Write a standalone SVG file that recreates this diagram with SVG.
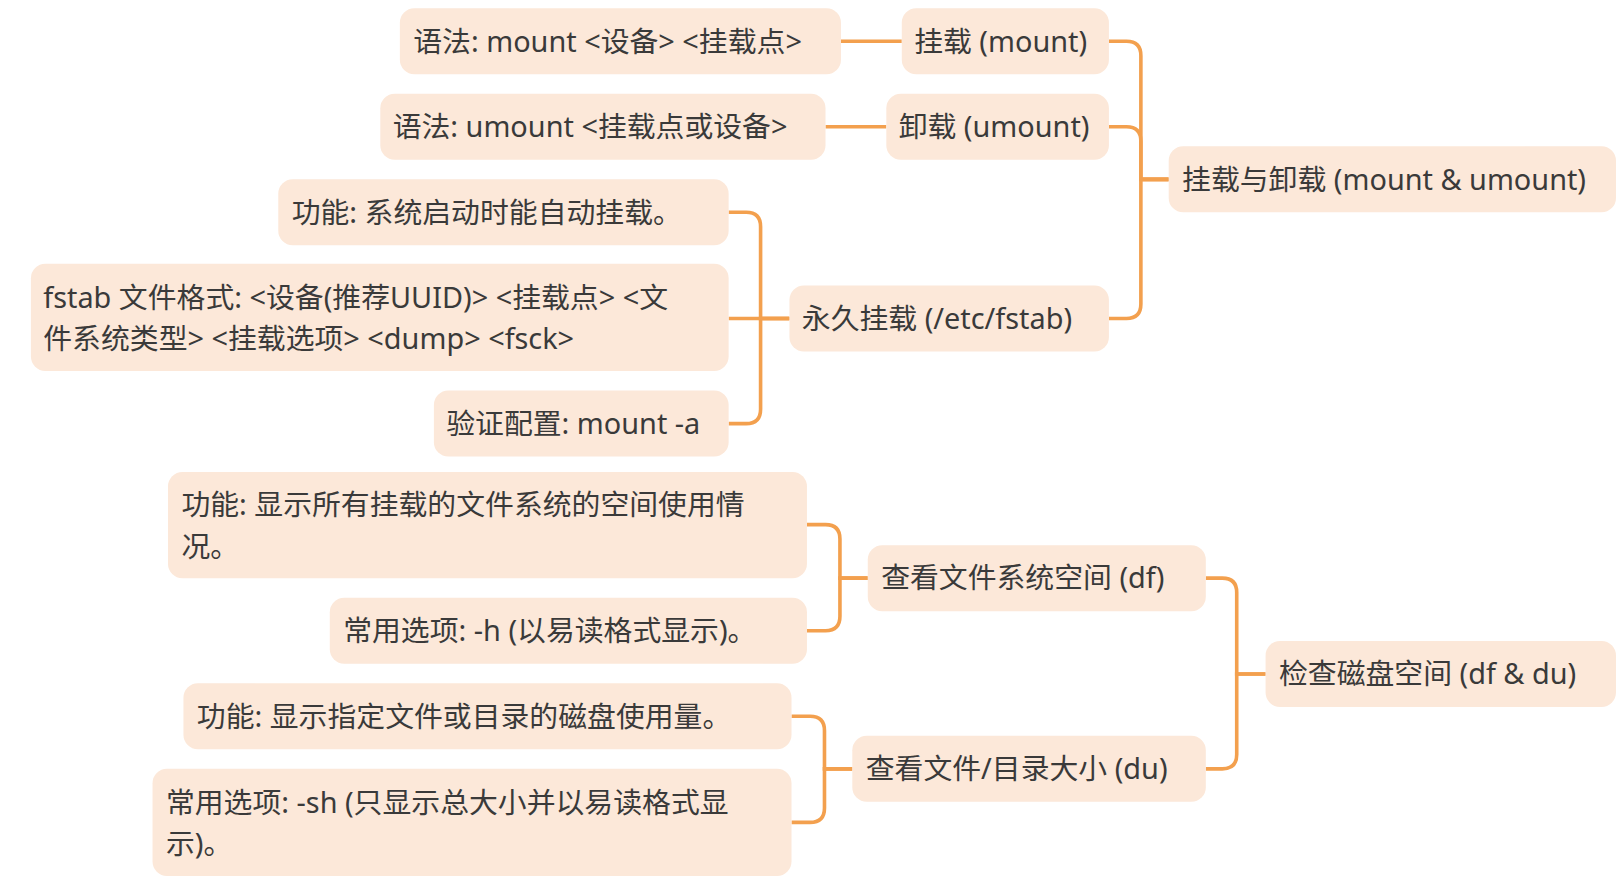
<svg xmlns="http://www.w3.org/2000/svg" width="1616" height="882" viewBox="0 0 1616 882">
<style>
.n rect{fill:#FCE8D9}
.n text{font-family:"Noto Sans","Noto Sans CJK SC",sans-serif;font-size:28px;fill:#3a3a3a}
#c path{fill:none;stroke:#F3A04E;stroke-width:3.5}
</style>
<rect width="1616" height="882" fill="#fff"/>
<g transform="scale(1.0306)">
<g id="c">
<path d="M816,40 H875"/>
<path d="M801,123 H860"/>
<path d="M1134,174 H1107 V54 Q1107,40 1093,40 H1076"/>
<path d="M1134,174 H1107 V137 Q1107,123 1093,123 H1076"/>
<path d="M1134,174 H1107 V295 Q1107,309 1093,309 H1076"/>
<path d="M766,309 H738 V220 Q738,206 724,206 H707"/>
<path d="M766,309 H707"/>
<path d="M766,309 H738 V397 Q738,411 724,411 H707"/>
<path d="M842,561 H815 V523 Q815,509 801,509 H783"/>
<path d="M842,561 H815 V598 Q815,612 801,612 H783"/>
<path d="M827,746 H800 V709 Q800,695 786,695 H768"/>
<path d="M827,746 H800 V784 Q800,798 786,798 H768"/>
<path d="M1228,654 H1200 V575 Q1200,561 1186,561 H1170"/>
<path d="M1228,654 H1200 V732 Q1200,746 1186,746 H1170"/>
</g>
<g id="n1" class="n"><rect x="388" y="8" width="428" height="64" rx="14"/><text x="401" y="50">语法: mount &lt;设备&gt; &lt;挂载点&gt;</text></g>
<g id="n2" class="n"><rect x="875" y="8" width="201" height="64" rx="14"/><text x="887" y="50">挂载 (mount)</text></g>
<g id="n3" class="n"><rect x="369" y="91" width="432" height="64" rx="14"/><text x="381" y="133">语法: umount &lt;挂载点或设备&gt;</text></g>
<g id="n4" class="n"><rect x="860" y="91" width="216" height="64" rx="14"/><text x="872" y="133">卸载 (umount)</text></g>
<g id="n5" class="n"><rect x="1134" y="142" width="434" height="64" rx="14"/><text x="1147" y="184">挂载与卸载 (mount &amp; umount)</text></g>
<g id="n6" class="n"><rect x="270" y="174" width="437" height="64" rx="14"/><text x="283" y="216">功能: 系统启动时能自动挂载。</text></g>
<g id="n7" class="n"><rect x="30" y="256" width="677" height="104" rx="14"/><text x="42" y="299">fstab 文件格式: &lt;设备(推荐UUID)&gt; &lt;挂载点&gt; &lt;文</text><text x="42" y="339">件系统类型&gt; &lt;挂载选项&gt; &lt;dump&gt; &lt;fsck&gt;</text></g>
<g id="n8" class="n"><rect x="766" y="277" width="310" height="64" rx="14"/><text x="778" y="319">永久挂载 (/etc/fstab)</text></g>
<g id="n9" class="n"><rect x="421" y="379" width="286" height="64" rx="14"/><text x="433" y="421">验证配置: mount -a</text></g>
<g id="n10" class="n"><rect x="163" y="458" width="620" height="103" rx="14"/><text x="176" y="500">功能: 显示所有挂载的文件系统的空间使用情</text><text x="176" y="540">况。</text></g>
<g id="n11" class="n"><rect x="320" y="580" width="463" height="64" rx="14"/><text x="333" y="622">常用选项: -h (以易读格式显示)。</text></g>
<g id="n12" class="n"><rect x="842" y="529" width="328" height="64" rx="14"/><text x="855" y="571">查看文件系统空间 (df)</text></g>
<g id="n13" class="n"><rect x="1228" y="622" width="340" height="64" rx="14"/><text x="1241" y="664">检查磁盘空间 (df &amp; du)</text></g>
<g id="n14" class="n"><rect x="178" y="663" width="590" height="64" rx="14"/><text x="191" y="705">功能: 显示指定文件或目录的磁盘使用量。</text></g>
<g id="n15" class="n"><rect x="148" y="746" width="620" height="104" rx="14"/><text x="161" y="789">常用选项: -sh (只显示总大小并以易读格式显</text><text x="161" y="829">示)。</text></g>
<g id="n16" class="n"><rect x="827" y="714" width="343" height="64" rx="14"/><text x="840" y="756">查看文件/目录大小 (du)</text></g>
</g>
</svg>
